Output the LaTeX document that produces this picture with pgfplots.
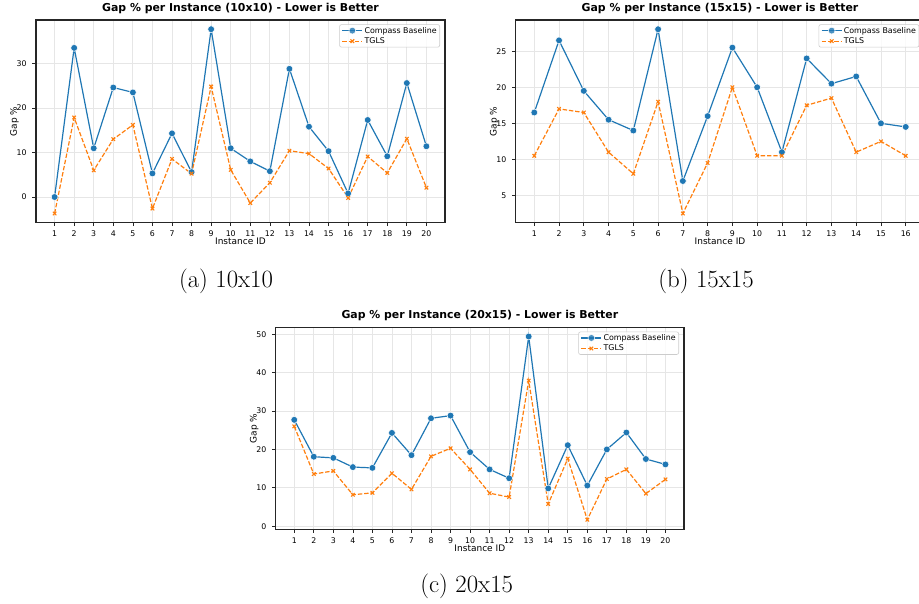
\documentclass[border=0pt]{standalone}
\usepackage{fontspec}
\usepackage{pgfplots}
\pgfplotsset{compat=1.18}
\newfontfamily\dejavu{DejaVu Sans}
\definecolor{cA}{HTML}{1F77B4}
\definecolor{cB}{HTML}{FF7F0E}
\definecolor{gridc}{HTML}{E6E6E6}
\definecolor{framec}{HTML}{262626}
\definecolor{legc}{HTML}{CCCCCC}
\pgfplotsset{
  gapstyle/.style={
    scale only axis,
    anchor=south west,
    height=202.7pt,
    enlargelimits=false,
    font=\dejavu\fontsize{7.8}{9}\selectfont,
    /pgf/number format/assume math mode=true,
    axis line style={draw=framec, line width=1.1pt},
    tick style={draw=framec, line width=0.7pt},
    tick align=outside,
    major tick length=3.5pt,
    xtick pos=left, ytick pos=left,
    grid=major,
    major grid style={draw=gridc, line width=0.8pt},
    title style={font=\dejavu\bfseries\fontsize{10.9}{12}\selectfont, at={(0.5,1)}, anchor=base, yshift=2.8pt, inner sep=0pt},
    xlabel style={font=\dejavu\fontsize{9}{10}\selectfont, at={(axis description cs:0.5,0)}, anchor=base, yshift=-22.3pt, inner sep=0pt},
    ylabel style={font=\dejavu\fontsize{9}{10}\selectfont, at={(axis description cs:-0.0465,0.5)}, anchor=base, inner sep=0pt},
    xticklabel style={anchor=base, yshift=-10.8pt, inner sep=0pt},
    yticklabel style={anchor=east, xshift=-5.7pt, inner sep=0pt},
    xlabel={Instance ID},
    ylabel={Gap \%},
    legend cell align=left,
    legend style={at={(1,1)}, anchor=north east, xshift=-5pt, yshift=-4.3pt,
      draw=legc, line width=0.6pt, rounded corners=2pt, fill=white, fill opacity=0.8, text opacity=1, draw opacity=1,
      font=\dejavu\fontsize{7.9}{9}\selectfont, inner xsep=2.2pt, inner ysep=1.35pt, row sep=1.1pt,
      nodes={inner sep=0.8pt}},
    legend image code/.code={\draw[mark repeat=2,mark phase=2] plot coordinates {(0pt,0pt) (10pt,0pt) (20pt,0pt)};},
  },
  compass/.style={color=cA, line width=1.2pt, mark=*, mark size=3.4pt, mark options={fill=cA, draw=white, line width=0.5pt}},
  tgls/.style={color=cB, line width=1.2pt, dash pattern=on 4.4pt off 1.9pt, mark=x, mark size=2.5pt, mark options={solid, line width=1.1pt}},
}
\begin{document}
\begin{tikzpicture}
\useasboundingbox (0,0) rectangle (919pt,604pt);
% (a) 10x10
\begin{axis}[gapstyle, at={(36pt,381.3pt)}, width=409pt,
  xmin=0.05, xmax=20.95, ymin=-5.77, ymax=39.77,
  xtick={1,...,20}, ytick={0,10,20,30},
  title={Gap \% per Instance (10x10) - Lower is Better}]
\addplot[compass] coordinates {(1,0.0) (2,33.5) (3,10.95) (4,24.6) (5,23.5) (6,5.3) (7,14.3) (8,5.6) (9,37.7) (10,10.95) (11,8.0) (12,5.8) (13,28.8) (14,15.8) (15,10.3) (16,0.8) (17,17.3) (18,9.15) (19,25.6) (20,11.4)};
\addlegendentry{\strut\hspace{0.8pt}Compass Baseline}
\addplot[tgls] coordinates {(1,-3.7) (2,17.85) (3,6.0) (4,13.0) (5,16.2) (6,-2.6) (7,8.55) (8,5.25) (9,24.8) (10,6.1) (11,-1.35) (12,3.2) (13,10.4) (14,9.75) (15,6.4) (16,-0.2) (17,9.1) (18,5.4) (19,13.1) (20,2.1)};
\addlegendentry{\strut\hspace{0.8pt}TGLS}
\end{axis}
% (b) 15x15
\begin{axis}[gapstyle, at={(515.7pt,381.3pt)}, width=408.6pt,
  xmin=0.25, xmax=16.75, ymin=1.22, ymax=29.33,
  xtick={1,...,16}, ytick={5,10,15,20,25},
  title={Gap \% per Instance (15x15) - Lower is Better}]
\addplot[compass] coordinates {(1,16.5) (2,26.5) (3,19.5) (4,15.5) (5,14.0) (6,28.05) (7,7.0) (8,16.0) (9,25.5) (10,20.0) (11,11.0) (12,24.0) (13,20.5) (14,21.5) (15,15.0) (16,14.5)};
\addlegendentry{\strut\hspace{0.8pt}Compass Baseline}
\addplot[tgls] coordinates {(1,10.5) (2,17.0) (3,16.5) (4,11.0) (5,8.0) (6,18.0) (7,2.5) (8,9.5) (9,20.0) (10,10.5) (11,10.5) (12,17.5) (13,18.5) (14,11.0) (15,12.5) (16,10.5)};
\addlegendentry{\strut\hspace{0.8pt}TGLS}
\end{axis}
% (c) 20x15
\begin{axis}[gapstyle, at={(275.7pt,74.7pt)}, width=408.3pt, height=202pt,
  xmin=0.05, xmax=20.95, ymin=-0.79, ymax=51.79,
  xtick={1,...,20}, ytick={0,10,20,30,40,50},
  title={Gap \% per Instance (20x15) - Lower is Better}]
\addplot[compass] coordinates {(1,27.7) (2,18.1) (3,17.8) (4,15.4) (5,15.2) (6,24.3) (7,18.5) (8,28.1) (9,28.8) (10,19.3) (11,14.8) (12,12.5) (13,49.4) (14,9.85) (15,21.1) (16,10.6) (17,20.0) (18,24.4) (19,17.5) (20,16.1)};
\addlegendentry{\strut\hspace{0.8pt}Compass Baseline}
\addplot[tgls] coordinates {(1,26.0) (2,13.6) (3,14.4) (4,8.2) (5,8.7) (6,13.8) (7,9.6) (8,18.2) (9,20.3) (10,14.8) (11,8.6) (12,7.6) (13,37.9) (14,5.8) (15,17.6) (16,1.7) (17,12.3) (18,14.8) (19,8.5) (20,12.2)};
\addlegendentry{\strut\hspace{0.8pt}TGLS}
\end{axis}
% captions
\node[font=\fontsize{24.8}{29}\selectfont, anchor=base, inner sep=0pt] at (226pt,316.5pt) {(a) 10x10};
\node[font=\fontsize{24.8}{29}\selectfont, anchor=base, inner sep=0pt] at (706pt,316.5pt) {(b) 15x15};
\node[font=\fontsize{24.8}{29}\selectfont, anchor=base, inner sep=0pt] at (466.7pt,11pt) {(c) 20x15};
\end{tikzpicture}
\end{document}
